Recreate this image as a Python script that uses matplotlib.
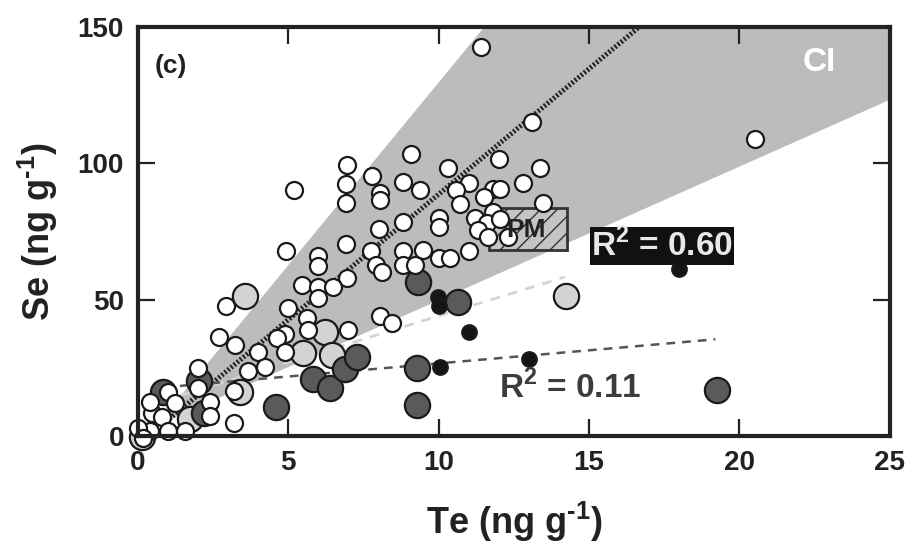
import matplotlib
matplotlib.use("Agg")
import matplotlib.pyplot as plt
import numpy as np
from matplotlib.patches import Rectangle

plt.rcParams['font.family'] = ['Liberation Sans Narrow', 'Liberation Sans', 'DejaVu Sans']
plt.rcParams['font.weight'] = 'bold'
plt.rcParams['mathtext.fontset'] = 'custom'
plt.rcParams['mathtext.rm'] = 'Liberation Sans:bold'
plt.rcParams['mathtext.bf'] = 'Liberation Sans:bold'

# ---- data (Te, Se in ng/g) ----
white_te = [11.41, 13.11, 20.52, 9.09, 12.01, 6.96, 7.79, 10.32, 13.37, 5.20,
            6.93, 8.06, 8.06, 8.82, 9.39, 11.01, 10.58, 12.81, 11.81, 12.04,
            11.51, 10.71, 13.47, 6.93, 8.82, 8.02, 6.93, 4.93, 5.99, 5.99,
            7.76, 7.92, 8.12, 8.82, 8.82, 10.02, 10.02, 11.21, 11.81, 11.61,
            12.04, 11.31, 11.64, 12.31, 9.48, 10.02, 10.38, 11.01, 9.22, 6.96,
            5.47, 6.00, 6.50, 6.00, 2.94, 5.00, 5.63, 8.06, 8.46, 4.90,
            5.66, 6.99, 4.63, 2.71, 3.24, 4.00, 4.90, 3.67, 4.24, 2.01,
            2.01, 1.01, 1.25, 2.41, 2.41, 3.21, 3.21, 0.48, 0.42, 0.81,
            0.42, 1.01, 1.58, 0.00, 0.18]
white_se = [142.5, 115.2, 109.0, 103.5, 101.7, 99.4, 95.4, 98.3, 98.3, 90.3,
            92.4, 89.1, 86.6, 93.2, 90.3, 92.8, 90.3, 92.8, 90.6, 90.6,
            87.7, 85.1, 85.4, 85.4, 78.3, 75.9, 70.4, 67.8, 66.0, 62.3,
            67.8, 62.7, 60.1, 67.8, 62.7, 80.0, 76.7, 80.0, 82.2, 78.1,
            79.6, 75.6, 73.0, 73.0, 68.2, 65.3, 65.3, 67.8, 62.7, 57.9,
            55.3, 54.6, 54.6, 50.6, 47.6, 46.9, 43.2, 43.9, 41.4, 37.3,
            38.8, 38.8, 35.8, 36.2, 33.3, 30.7, 30.7, 23.7, 25.2, 24.8,
            17.5, 16.0, 11.9, 12.3, 7.5, 16.4, 4.6, 8.6, 12.3, 6.8,
            2.0, 2.0, 2.0, 2.8, -0.6]

lgrey_te = [3.57, 6.23, 5.50, 6.46, 3.41, 1.74, 14.24, 0.15]
lgrey_se = [51.3, 38.1, 30.3, 29.6, 16.0, 6.4, 51.3, -0.2]

dgrey_te = [0.85, 2.04, 2.21, 4.60, 5.83, 6.40, 6.89, 7.29, 9.32, 10.65, 9.29, 9.29, 19.25]
dgrey_se = [16.0, 20.0, 8.6, 10.5, 20.8, 17.5, 24.4, 28.9, 56.4, 49.1, 24.8, 11.2, 16.7]

black_te = [9.98, 10.02, 11.01, 10.05, 13.01, 17.99]
black_se = [50.9, 47.6, 38.1, 25.2, 28.1, 61.2]

# regression / confidence band coefficients (slope, intercept)
fit_main = (9.2, -3.4)
ci_upper = (13.4, -4.0)
ci_lower = (4.9, 1.0)
fit_lgrey = (3.4, 10.0)
fit_dgrey = (0.96, 17.0)

x_ticks = [0, 5, 10, 15, 20, 25]
y_ticks = [0, 50, 100, 150]

fig = plt.figure(figsize=(9.07, 5.47), dpi=100)
ax = fig.add_axes([0.152, 0.203, 0.829, 0.748])
ax.set_xlim(0, 25)
ax.set_ylim(0, 150)

# confidence band
apex = (ci_lower[1] - ci_upper[1]) / (ci_upper[0] - ci_lower[0])
xb = np.linspace(apex, 25, 400)
up = np.minimum(ci_upper[0] * xb + ci_upper[1], 150)
lo = ci_lower[0] * xb + ci_lower[1]
ax.fill_between(xb, lo, up, color='#bbbcbe', lw=0, zorder=1)

# fit lines
xm = np.array([0.95, (150 - fit_main[1]) / fit_main[0]])
ax.plot(xm, fit_main[0] * xm + fit_main[1], color='#222222', lw=3.6,
        linestyle=(0, (0.4, 0.4)), zorder=2)
xl = np.array([1.4, 14.2])
ax.plot(xl, fit_lgrey[0] * xl + fit_lgrey[1], color='#d4d4d4', lw=2.0,
        linestyle=(0, (3.5, 3)), zorder=2)
xd = np.array([1.4, 19.2])
ax.plot(xd, fit_dgrey[0] * xd + fit_dgrey[1], color='#555555', lw=1.8,
        linestyle=(0, (3.5, 2.8)), zorder=2)

# PM box
ax.add_patch(Rectangle((11.69, 68.2), 2.59, 15.3, facecolor='#c4c4c4',
                       edgecolor='#333333', hatch='//', lw=2, zorder=3))

ekw = dict(edgecolors='#1a1a1a', linewidths=1.6, clip_on=False)
ax.scatter(lgrey_te, lgrey_se, s=330, facecolors='#d3d3d3', zorder=4, **ekw)
ax.scatter(dgrey_te, dgrey_se, s=330, facecolors='#5a5a5a', zorder=5, **ekw)
ax.scatter(white_te, white_se, s=150, facecolors='white', zorder=6, **ekw)
ax.scatter(black_te, black_se, s=110, facecolors='#151515', zorder=7, **ekw)

ax.text(12.9, 75.6, 'PM', ha='center', va='center', fontsize=19,
        color='#222222', fontweight='bold', zorder=8)

ax.text(17.43, 69.7, 'R$^{2}$ = 0.60', ha='center', va='center', fontsize=24,
        color='#e8e8e8', fontweight='bold', zorder=8,
        bbox=dict(facecolor='#111111', edgecolor='none', pad=1.0))
ax.text(14.37, 17.9, 'R$^{2}$ = 0.11', ha='center', va='center', fontsize=24,
        color='#3c3c3c', fontweight='bold', zorder=8)
ax.text(22.67, 137, 'CI', ha='center', va='center', fontsize=24,
        color='white', fontweight='bold', zorder=8)
ax.text(0.55, 135.5, '(c)', ha='left', va='center', fontsize=19,
        color='#222222', fontweight='bold', zorder=8)

ax.set_xticks(x_ticks)
ax.set_yticks(y_ticks)
ax.set_xticklabels([str(t) for t in x_ticks])
ax.set_yticklabels([str(t) for t in y_ticks])
ax.tick_params(direction='in', length=12, width=1.6, top=True, right=True,
               labelsize=20, pad=10, colors='#222222')
for lab in ax.get_xticklabels() + ax.get_yticklabels():
    lab.set_fontweight('bold')
for sp in ax.spines.values():
    sp.set_linewidth(3)
    sp.set_color('#222222')
    sp.set_zorder(10)

ax.set_xlabel('Te (ng g$^{\\text{-}1}$)', fontsize=26, fontweight='bold',
              color='#222222', labelpad=17)
ax.set_ylabel('Se (ng g$^{\\text{-}1}$)', fontsize=26, fontweight='bold',
              color='#222222', labelpad=13)

fig.savefig('out.png', dpi=100)
